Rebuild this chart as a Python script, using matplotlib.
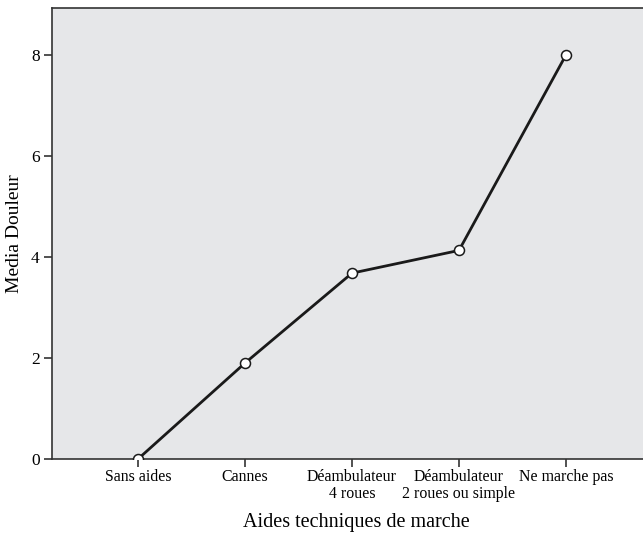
import matplotlib
matplotlib.use("Agg")
import matplotlib.pyplot as plt

categories = ["Sans aides", "Cannes", "Déambulateur\n4 roues", "Déambulateur\n2 roues ou simple", "Ne marche pas"]
values = [0.0, 1.90, 3.68, 4.13, 8.0]
yticks = [0, 2, 4, 6, 8]

plt.rcParams['font.family'] = ['Liberation Serif', 'DejaVu Serif']

fig = plt.figure(figsize=(6.43, 5.34), dpi=100)
ax = fig.add_axes([52/643, 1-459/534, 1-52/643, (459-8)/534])
ax.set_facecolor('#e6e7e9')
x = list(range(len(categories)))
ax.plot(x, values, color='#1a1a1a', lw=2.0, marker='o', ms=7.2, mfc='white', mec='#1a1a1a', mew=1.1, zorder=3)
ax.set_xlim(-0.804, 4.72)
ax.set_ylim(0, 8.93)
ax.set_xticks(x)
ax.set_xticklabels(categories, fontsize=11.4, linespacing=1.1)
ax.set_yticks(yticks)
ax.set_yticklabels([str(t) for t in yticks], fontsize=12.5)
ax.tick_params(axis='both', length=6, width=1.2, color='#333333')
ax.tick_params(axis='x', pad=1)
ax.tick_params(axis='y', pad=3)
for s in ['left', 'bottom', 'top']:
    ax.spines[s].set_color('#333333')
    ax.spines[s].set_linewidth(1.2)
ax.spines['right'].set_visible(False)
ax.set_xlabel('Aides techniques de marche', fontsize=14.5, va='center')
ax.set_ylabel('Media Douleur', fontsize=14, va='center')
ax.xaxis.set_label_coords((356-52)/591, (459-523)/451)
ax.yaxis.set_label_coords((15-52)/591, 0.5)
fig.savefig('out.png', dpi=100)
